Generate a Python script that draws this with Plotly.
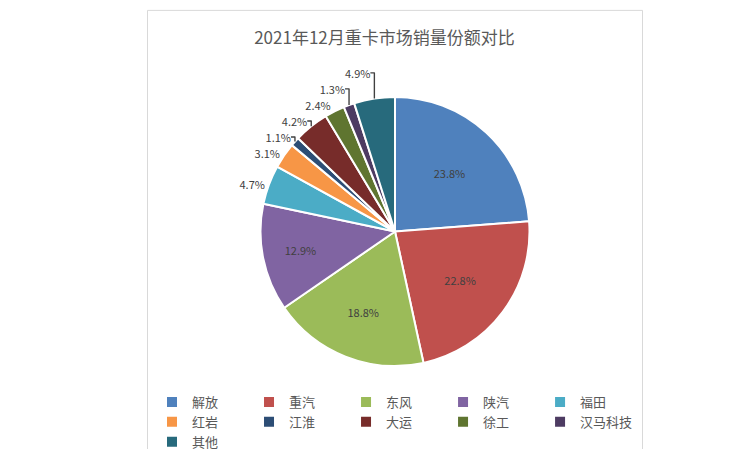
import plotly.graph_objects as go

# 2021年12月重卡市场销量份额
brands = ["解放", "重汽", "东风", "陕汽", "福田", "红岩", "江淮", "大运", "徐工", "汉马科技", "其他"]
shares = [23.8, 22.8, 18.8, 12.9, 4.7, 3.1, 1.1, 4.2, 2.4, 1.3, 4.9]
colors = ["#4F81BD", "#C0504D", "#9BBB59", "#8064A2", "#4BACC6", "#F79646",
          "#2C4D75", "#772C2A", "#5F7530", "#4D3B62", "#276A7C"]

positions = ["inside" if v > 10 else "outside" for v in shares]

fig = go.Figure(go.Pie(
    labels=brands,
    values=shares,
    sort=False,
    direction="clockwise",
    rotation=0,
    marker=dict(colors=colors, line=dict(color="white", width=2)),
    texttemplate="%{value:.1f}%",
    textposition=positions,
    insidetextorientation="horizontal",
    textfont=dict(size=11, color="#404040"),
    outsidetextfont=dict(size=11, color="#404040"),
))

fig.update_layout(
    width=753, height=449,
    font=dict(family="Noto Sans CJK SC, Microsoft YaHei, sans-serif", color="#595959"),
    title=dict(text="2021年12月重卡市场销量份额对比", x=0.5, xanchor="center",
               y=0.933, yref="container", yanchor="middle",
               font=dict(size=17, color="#595959")),
    margin=dict(t=89, b=88, l=0, r=0),
    paper_bgcolor="white",
    showlegend=True,
    legend=dict(orientation="h", x=0.5, xanchor="center", y=-0.21, yanchor="middle",
                font=dict(size=13, color="#595959")),
    shapes=[dict(type="rect", xref="paper", yref="paper", x0=0.001, x1=0.999,
                 y0=-0.32, y1=1.322, line=dict(color="#D9D9D9", width=1))],
)

fig.write_html("out.html")
